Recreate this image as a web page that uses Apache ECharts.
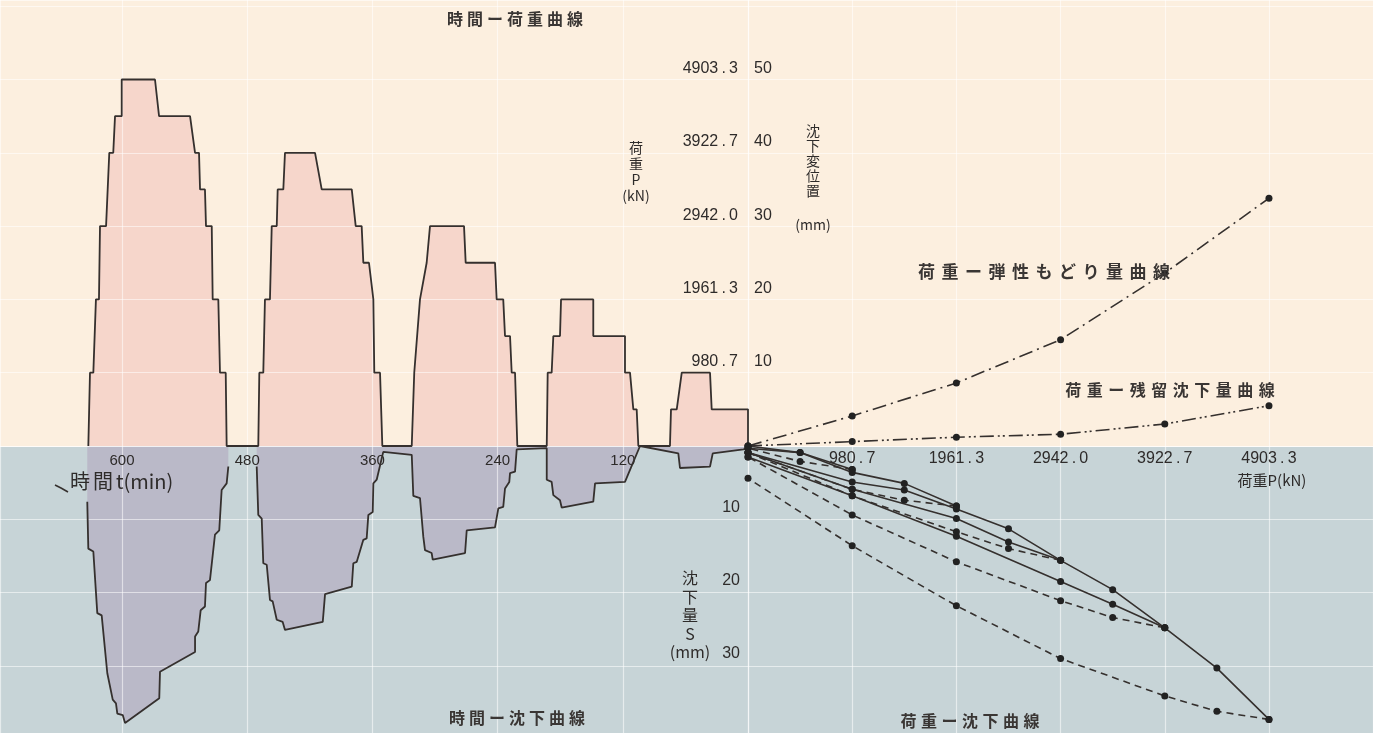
<!DOCTYPE html>
<html>
<head>
<meta charset="utf-8">
<script src="https://cdn.jsdelivr.net/npm/echarts@6/dist/echarts.min.js"></script>
<style>
  html, body { margin: 0; padding: 0; }
  #chart {
    width: 1373px; height: 733px;
    background: linear-gradient(to bottom, #fcefdf 0, #fcefdf 447px, #c7d4d7 447px, #c7d4d7 100%);
  }
</style>
</head>
<body>
<div id="chart"></div>
<script>
// ---------- tick labels ----------
const timeTicks = ['120', '240', '360', '480', '600'];                                   // min
const loadTicks = ['980\u2009.\u20097', '1961\u2009.\u20093', '2942\u2009.\u20090', '3922\u2009.\u20097', '4903\u2009.\u20093']; // kN
const upMmTicks = ['10', '20', '30', '40', '50'];                                        // mm (rebound)
const downMmTicks = ['10', '20', '30'];                                                  // mm (settlement)

// ---------- time - load record (time in min, load in kN) ----------
const tlTime = [
  0, 0, 34.8, 36.4, 63.5, 68.3, 73.8, 74.8,
  105.1, 106.7, 109.9, 113.1, 117.9, 117.9, 148.3, 148.3, 179.2, 180.2, 186.6, 188.2, 192.0, 192.9,
  221.1, 223.3, 226.5, 228.1, 232.9, 234.6, 240.9, 242.5, 270.6, 272.2, 304.8, 308.0, 309.6, 314.4, 316.0, 319.9, 320.8, 322.3,
  350.5, 352.7, 358.2, 359.1, 360.7, 363.3, 368.7, 370.3, 376.0, 379.8, 408.6, 415.0, 443.8, 445.4, 450.8, 451.7, 456.5, 458.2, 463.0, 464.6, 468.4, 469.4,
  499.7, 500.6, 506.1, 507.7, 513.1, 514.0, 519.5, 520.5, 525.2, 526.2, 530.0, 534.8, 564.5, 568.4, 600.3, 600.3, 606.7, 608.4, 612.2, 615.3, 621.1, 622.1, 625.0, 627.5, 630.7, 632.3
];
const tlLoad = [
  0, 490.3, 490.3, 980.7, 980.7, 490.3, 490.3, 0,
  0, 490.3, 490.3, 980.7, 980.7, 1471.0, 1471.0, 1961.3, 1961.3, 1471.0, 1471.0, 980.7, 980.7, 0,
  0, 980.7, 980.7, 1471.0, 1471.0, 1961.3, 1961.3, 2451.7, 2451.7, 2942.0, 2942.0, 2451.7, 2451.7, 1961.3, 1961.3, 980.7, 980.7, 0,
  0, 980.7, 980.7, 1961.3, 1961.3, 2451.7, 2451.7, 2942.0, 2942.0, 3432.3, 3432.3, 3922.7, 3922.7, 3432.3, 3432.3, 2942.0, 2942.0, 1961.3, 1961.3, 980.7, 980.7, 0,
  0, 980.7, 980.7, 1961.3, 1961.3, 2942.0, 2942.0, 3432.3, 3432.3, 3922.7, 3922.7, 4413.0, 4413.0, 4903.3, 4903.3, 4413.0, 4413.0, 3922.7, 3922.7, 2942.0, 2942.0, 1961.3, 1961.3, 980.7, 980.7, 0
];

// ---------- time - settlement record (time in min, settlement in mm; '-' = gap in the record) ----------
const tsTime = [
  0, 4.5, 33.8, 36.4, 65.2, 66.8, 103.5,
  117.9, 146.6, 148.3, 178.6, 180.2, 186.6, 188.2, 192.9, 192.9,
  221.7, 223.3, 228.1, 228.8, 232.9, 234.6, 239.3, 242.5, 269.6, 271.2, 302.2, 303.2, 309.6, 311.2, 312.5, 314.4, 320.8, 322.3,
  349.6, 355.9, 359.1, 359.7, 363.9, 365.5, 368.7, 375.0, 378.3, 379.8, 405.4, 407.6, 443.8, 446.0, 451.7, 455.6, 458.2, 461.3, 464.6, 466.1, 469.4, 470.9,
  484.0,
  498.1, 499.7, 504.5, 506.8, 510.9, 515.7, 519.5, 520.5, 524.6, 526.9, 530.0, 530.0, 563.6, 564.3, 597.1, 599.3, 604.5, 605.8, 608.9, 614.1, 619.5, 623.7, 627.5, 632.3, 633.3
];
const tsSettle = [
  0.3, 0.45, 1.0, 2.8, 3.0, 1.0, 0,
  4.9, 5.1, 7.6, 8.4, 7.4, 6.7, 4.9, 4.6, 0.3,
  0.45, 3.5, 3.7, 4.9, 5.8, 8.3, 8.5, 11.1, 11.5, 14.6, 15.5, 14.6, 14.2, 12.4, 12.4, 7.1, 6.8, 1.2,
  0.8, 4.6, 5.1, 9.0, 9.4, 12.6, 12.8, 15.8, 16.0, 19.2, 20.2, 24.0, 25.1, 24.0, 23.7, 21.2, 21.0, 16.2, 16.0, 9.9, 9.4, 2.8,
  '-',
  2.8, 5.1, 6.0, 11.5, 12.1, 18.3, 18.7, 21.9, 22.4, 25.3, 26.0, 28.1, 30.8, 34.4, 37.8, 36.7, 36.5, 35.1, 34.6, 31.0, 23.1, 22.8, 14.4, 14.0, 7.6
];

// ---------- load - rebound / residual settlement (load kN, mm) ----------
const cycleLoads = [0, 980.7, 1961.3, 2942.0, 3922.7, 4903.3];
const reboundMm  = [0, 4.1, 8.6, 14.5, 23.6, 33.8];
const residualMm = [0, 0.6, 1.2, 1.6, 3.0, 5.5];

// ---------- load - settlement, per cycle (load kN, settlement mm) ----------
const c1LoadP = [0, 490.3, 980.7];
const c1LoadS = [0, 0.9, 3.2];
const c1UnloadP = [980.7, 490.3, 0];
const c1UnloadS = [3.2, 2.1, 0.3];
const c2LoadP = [0, 490.3, 980.7, 1471.0, 1961.3];
const c2LoadS = [0.3, 0.9, 3.6, 5.1, 8.2];
const c2UnloadP = [1961.3, 1471.0, 980.7, 0];
const c2UnloadS = [8.2, 7.4, 5.9, 0.9];
const c3LoadP = [0, 980.7, 1471.0, 1961.3, 2451.7, 2942.0];
const c3LoadS = [0.9, 4.9, 6.0, 8.6, 11.3, 15.6];
const c3UnloadP = [2942.0, 2451.7, 1961.3, 980.7, 0];
const c3UnloadS = [15.6, 14.0, 11.7, 6.8, 0.9];
const c4LoadP = [0, 980.7, 1961.3, 2451.7, 2942.0, 3432.3, 3922.7];
const c4LoadS = [0.9, 5.9, 9.9, 13.1, 15.6, 19.6, 24.8];
const c4UnloadP = [3922.7, 3432.3, 2942.0, 1961.3, 980.7, 0];
const c4UnloadS = [24.8, 23.4, 21.1, 15.8, 9.4, 1.5];
const c5LoadP = [0, 980.7, 1961.3, 2942.0, 3432.3, 3922.7, 4413.0, 4903.3];
const c5LoadS = [1.5, 6.8, 12.3, 18.5, 21.6, 24.8, 30.3, 37.3];
const c5UnloadP = [4903.3, 4413.0, 3922.7, 2942.0, 1961.3, 980.7, 0];
const c5UnloadS = [37.3, 36.2, 34.1, 29.0, 21.8, 13.6, 4.4];

// ---------- layout ----------
const W = 1373, H = 733;
const AXIS_X = 748;          // shared origin column
const ZERO_Y = 446;          // shared origin row
const PX_PER_MIN = 1.0433;
const PX_PER_KN_X = 0.10625;
const PX_PER_MM = 7.33;
const KN_PER_MM = 98.0665;   // 10 mm on the vertical scale = 980.665 kN
const PSTEP = 980.665;

const T_MAX = AXIS_X / PX_PER_MIN;
const P_MAX = (W - AXIS_X) / PX_PER_KN_X;
const UP_MM_MAX = ZERO_Y / PX_PER_MM;
const KN_MAX = UP_MM_MAX * KN_PER_MM;
const DOWN_MM_MAX = (H - ZERO_Y) / PX_PER_MM;

const INK = '#35302e';
const TXT = '#2e2b2a';
const NUM_FONT = '"Liberation Sans", Arial, sans-serif';
const JP_FONT = '"Noto Sans CJK JP", sans-serif';
const GRIDLINE = { show: true, lineStyle: { color: 'rgba(255,255,255,0.55)', width: 1.2 } };
const Z_FILL = 2, Z_AXIS = 10, Z_LINE = 30;

const zip = (a, b) => a.map((v, i) => [v, b[i]]);
const pick = (list, step, v) => {
  const i = Math.round(v / step);
  return (i >= 1 && i <= list.length && Math.abs(v - i * step) < 1e-3 * step) ? list[i - 1] : '';
};

const numLabel = (extra) => Object.assign({
  color: TXT, fontFamily: NUM_FONT, fontSize: 16
}, extra);
const bare = { axisLine: { show: false }, axisTick: { show: false }, splitLine: GRIDLINE, z: Z_AXIS };

const option = {
  animation: false,
  backgroundColor: 'transparent',
  grid: [
    { left: 0, top: 0, width: AXIS_X, height: ZERO_Y, outerBoundsMode: 'none' },
    { left: 0, top: ZERO_Y, width: AXIS_X, height: H - ZERO_Y, outerBoundsMode: 'none' },
    { left: AXIS_X, top: 0, width: W - AXIS_X, height: ZERO_Y, outerBoundsMode: 'none' },
    { left: AXIS_X, top: ZERO_Y, width: W - AXIS_X, height: H - ZERO_Y, outerBoundsMode: 'none' }
  ],
  xAxis: [
    Object.assign({ gridIndex: 0, type: 'value', min: 0, max: T_MAX, interval: 120, inverse: true, position: 'bottom',
      axisLabel: numLabel({ fontSize: 15, margin: 7, formatter: v => pick(timeTicks, 120, v) }) }, bare),
    Object.assign({ gridIndex: 1, type: 'value', min: 0, max: T_MAX, interval: 120, inverse: true,
      axisLabel: { show: false } }, bare),
    Object.assign({ gridIndex: 2, type: 'value', min: 0, max: P_MAX, interval: PSTEP, position: 'bottom',
      axisLabel: numLabel({ margin: 5, formatter: v => pick(loadTicks, PSTEP, v) }) }, bare),
    Object.assign({ gridIndex: 3, type: 'value', min: 0, max: P_MAX, interval: PSTEP,
      axisLabel: { show: false } }, bare)
  ],
  yAxis: [
    Object.assign({ gridIndex: 0, type: 'value', min: 0, max: KN_MAX, interval: PSTEP, position: 'right',
      axisLabel: numLabel({ inside: true, margin: 10, verticalAlign: 'bottom', padding: [0, 0, 3, 0],
        formatter: v => pick(loadTicks, PSTEP, v) }) }, bare),
    Object.assign({ gridIndex: 1, type: 'value', min: 0, max: DOWN_MM_MAX, interval: 10, inverse: true, position: 'right',
      axisLabel: numLabel({ inside: true, margin: 8, verticalAlign: 'bottom', padding: [0, 0, 4, 0],
        formatter: v => pick(downMmTicks, 10, v) }) }, bare),
    Object.assign({ gridIndex: 2, type: 'value', min: 0, max: UP_MM_MAX, interval: 10, position: 'left',
      axisLabel: numLabel({ inside: true, margin: 6, verticalAlign: 'bottom', padding: [0, 0, 3, 0],
        formatter: v => pick(upMmTicks, 10, v) }) }, bare),
    Object.assign({ gridIndex: 3, type: 'value', min: 0, max: DOWN_MM_MAX, interval: 10, inverse: true,
      axisLabel: { show: false } }, bare)
  ],
  series: []
};

// filled record: fill underneath the grid lines, outline above them
const record = (x, y, axis, fill) => {
  const data = zip(x, y);
  option.series.push({
    type: 'line', xAxisIndex: axis, yAxisIndex: axis, data, symbol: 'none',
    lineStyle: { width: 0, opacity: 0 }, areaStyle: { color: fill, opacity: 1 }, z: Z_FILL
  });
  option.series.push({
    type: 'line', xAxisIndex: axis, yAxisIndex: axis, data, symbol: 'none',
    lineStyle: { color: INK, width: 1.8 }, z: Z_LINE
  });
};
record(tlTime, tlLoad, 0, '#f6d6cb');     // time - load
record(tsTime, tsSettle, 1, '#bab9c8');   // time - settlement

const dotted = (x, y, dash, axis) => ({
  type: 'line', xAxisIndex: axis, yAxisIndex: axis, data: zip(x, y),
  symbol: 'circle', symbolSize: 7, itemStyle: { color: '#222' },
  lineStyle: { color: INK, width: 1.6, type: dash }, z: Z_LINE
});

// load - elastic rebound and load - residual settlement
option.series.push(dotted(cycleLoads, reboundMm, [14, 5, 2, 5], 2));
option.series.push(dotted(cycleLoads, residualMm, [14, 4, 2, 3, 2, 4], 2));

// load - settlement, loading (solid) and unloading (dashed) per cycle
[
  [c1LoadP, c1LoadS, c1UnloadP, c1UnloadS],
  [c2LoadP, c2LoadS, c2UnloadP, c2UnloadS],
  [c3LoadP, c3LoadS, c3UnloadP, c3UnloadS],
  [c4LoadP, c4LoadS, c4UnloadP, c4UnloadS],
  [c5LoadP, c5LoadS, c5UnloadP, c5UnloadS]
].forEach(([lp, ls, up, us]) => {
  option.series.push(dotted(lp, ls, 'solid', 3));
  option.series.push(dotted(up, us, [7, 5], 3));
});

// ---------- titles and axis names ----------
const txt = (x, y, s, size, extra) => ({
  type: 'text', x, y, z: 50,
  style: Object.assign({
    text: s, fill: TXT, fontSize: size, fontFamily: JP_FONT,
    align: 'center', verticalAlign: 'middle'
  }, extra || {})
});
// tracked (letter-spaced) horizontal caption, centred on cx
const tracked = (cx, cy, chars, size, pitch, extra) =>
  chars.map((c, i) => txt(cx + (i - (chars.length - 1) / 2) * pitch, cy, c, size, extra));
// vertical caption, one glyph group per row
const column = (x, y0, gap, chars, size, extra) => chars.map((c, i) => txt(x, y0 + i * gap, c, size, extra));

const BOLD = { fontWeight: 'bold', fill: '#3a3634' };

option.graphic = [
  ...tracked(515, 19, [...'時間ー荷重曲線'], 16, 20, BOLD),
  ...tracked(517, 718, [...'時間ー沈下曲線'], 16, 20, BOLD),
  ...tracked(970, 721, [...'荷重ー沈下曲線'], 16, 20.5, BOLD),
  ...tracked(1044, 272, [...'荷重ー弾性もどり量曲線'], 17, 23.5, BOLD),
  ...tracked(1170, 390, [...'荷重ー残留沈下量曲線'], 16, 21.5, BOLD),
  txt(1272, 480, '荷重P(kN)', 15),
  txt(80, 481, '時', 20),
  txt(103, 481, '間', 20),
  txt(116, 481, 't(min)', 20, { align: 'left' }),
  ...column(636, 148, 16, ['荷', '重', 'P', '(kN)'], 14),
  ...column(813, 131, 14.8, ['沈', '下', '変', '位', '置'], 14),
  txt(813, 225, '(mm)', 14),
  ...column(690, 578, 18.5, ['沈', '下', '量', 'S', '(mm)'], 16),
  { type: 'polyline', z: 50, shape: { points: [[55, 485], [61, 488], [68, 492]] },
    style: { stroke: INK, lineWidth: 1.6, fill: null } }
];

const chart = echarts.init(document.getElementById('chart'));
chart.setOption(option);
</script>
</body>
</html>
